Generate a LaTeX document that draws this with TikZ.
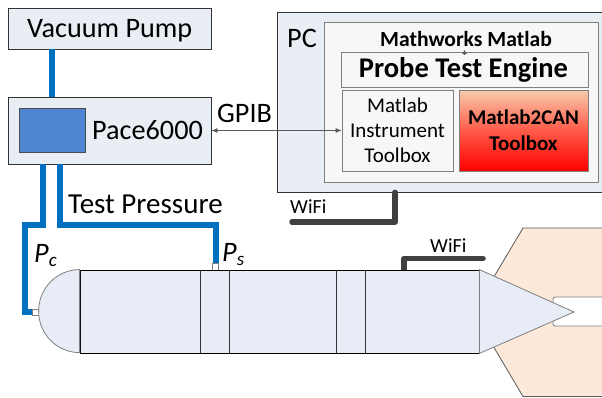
\documentclass[tikz,border=0pt]{standalone}
\usepackage{fontspec}
\setmainfont{Carlito}
\usetikzlibrary{arrows.meta}

\definecolor{boxfill}{HTML}{E9EDF4}
\definecolor{bodyfill}{HTML}{E7ECF6}
\definecolor{pipeblue}{HTML}{0070C0}
\definecolor{paceblue}{HTML}{4F85D1}
\definecolor{peach}{HTML}{FDE9DA}
\definecolor{wifigray}{HTML}{404040}
\definecolor{linegray}{HTML}{7F7F7F}
\definecolor{arrowgray}{HTML}{595959}
\definecolor{matfill}{HTML}{F7F7F7}
\definecolor{salmon}{HTML}{F8CBAD}
\definecolor{redmid}{HTML}{FF5A48}

\begin{document}
\begin{tikzpicture}[x=1pt,y=-1pt,
  box/.style={draw=black!80, fill=boxfill, line width=0.8pt, inner sep=0pt},
  softbox/.style={draw=linegray, fill=matfill, line width=0.8pt, inner sep=0pt},
  pipe/.style={draw=pipeblue, line width=6pt},
  port/.style={draw=linegray, fill=white, line width=0.6pt, inner sep=0pt},
  wire/.style={draw=wifigray, line width=5.5pt, line cap=round, line join=round},
  big/.style={font=\fontsize{28.2}{32}\selectfont},
  mid/.style={font=\fontsize{21}{25}\selectfont},
  small/.style={font=\fontsize{20}{24}\selectfont},
  lbl/.style={inner sep=0pt, anchor=base west},
  gpibline/.style={draw=arrowgray, line width=0.8pt,
    arrows={Latex[length=6pt,width=5pt]-Latex[length=6pt,width=5pt]}},
  tinyarrow/.style={draw=arrowgray, line width=0.6pt, -{Latex[length=4pt,width=5pt]}}
]
\useasboundingbox (0,0) rectangle (602,397);

% fin of the test rig with the slot the probe tip sits in
\filldraw[fill=peach, draw=arrowgray, line width=0.8pt]
  (608,228) -- (523,228) -- (473,312) -- (523,396.5) -- (608,396.5);
\filldraw[fill=white, draw=linegray, line width=0.8pt, rounded corners=2pt]
  (608,297) -- (553,297) -- (553,326) -- (608,326);

% instruments
\node[box, minimum width=203pt, minimum height=41pt] (vp) at (109.5,28.5) {};
\node[box, minimum width=203pt, minimum height=67pt] (pace) at (109.5,130.5) {};
\node[draw=black!70, fill=paceblue, line width=0.8pt, inner sep=0pt,
  minimum width=66pt, minimum height=44pt] (display) at (52,130) {};
\node[lbl, big] (vplabel) at (27,37) {Vacuum Pump};
\node[lbl, big] (pacelabel) at (92,139) {Pace6000};

% WiFi link end points
\coordinate (pcwifi) at (292,222);
\coordinate (probewifi) at (483,258.5);

% PC and software stack
\node[box, minimum width=329pt, minimum height=180pt] (pc) at (441.5,102) {};
\draw[wire] ([xshift=-46.5pt]pc.south) |- (pcwifi);
\node[lbl, big] (pclabel) at (287,47) {PC};
\node[softbox, minimum width=274pt, minimum height=160pt] (matlab) at (461,102) {};
\node[anchor=base, inner sep=0pt, font=\fontsize{21.6}{25}\selectfont\bfseries]
  (matlablabel) at (466,46) {Mathworks Matlab};
\node[softbox, minimum width=247pt, minimum height=35pt] (pte) at (464.5,69.5) {};
\node[anchor=base, inner sep=0pt, font=\fontsize{28.5}{32}\selectfont\bfseries]
  (ptelabel) at (463.5,77) {Probe Test Engine};
\draw[tinyarrow] ([yshift=-3pt]pte.north) -- ([yshift=1.5pt]pte.north);
\node[softbox, minimum width=111pt, minimum height=81pt, align=center, mid]
  (mit) at (397.5,130.5) {Matlab\\Instrument\\Toolbox};
\node[draw=linegray, line width=0.8pt, inner sep=0pt, top color=salmon,
  bottom color=red, middle color=redmid,
  minimum width=129pt, minimum height=81pt, align=center,
  font=\fontsize{21}{26}\selectfont\bfseries]
  (m2c) at (523.5,130.5) {Matlab2CAN\\Toolbox};

% GPIB link
\draw[gpibline] (pace.east) -- (mit.west);
\node[lbl, big] (gpiblabel) at (217,122) {GPIB};

% pressure lines
\node[port, minimum width=7pt, minimum height=6pt] (pcport) at (35.5,312) {};
\node[port, minimum width=5.5pt, minimum height=7pt] (psport) at (215.5,266.5) {};
\draw[pipe] ([xshift=-58pt]vp.south) -- ([xshift=-58pt]pace.north);
\draw[pipe] ([xshift=-67pt]pace.south) |- (25,224.5) |- (pcport.west);
\draw[pipe] ([xshift=-49.5pt]pace.south) |- (psport.north |- 0,224.5) -- (psport.north);
\node[lbl, font=\fontsize{29}{32}\selectfont] (tplabel) at (68,213) {Test Pressure};
\node[lbl, big] (pclbl) at (34,262)
  {\itshape P\raisebox{-4pt}{\fontsize{19}{20}\selectfont c}};
\node[lbl, big] (pslbl) at (222,261)
  {\itshape P\raisebox{-4pt}{\fontsize{19}{20}\selectfont s}};

% probe
\draw[wire] (404,270) |- (probewifi);
\node[draw=black, fill=bodyfill, line width=0.8pt, inner sep=0pt,
  minimum width=399pt, minimum height=83pt] (body) at (279.5,311.5) {};
\filldraw[fill=bodyfill, draw=linegray, line width=0.8pt]
  (body.north west) arc[start angle=90, end angle=270, x radius=41pt, y radius=41.5pt] -- cycle;
\foreach \dx in {121,150,257,286}
  \draw[black!80, line width=0.8pt]
    ([xshift=\dx pt]body.north west) -- ([xshift=\dx pt]body.south west);
\coordinate (tip) at (574,312);
\filldraw[fill=bodyfill, draw=linegray, line width=0.8pt]
  (body.north east) -- (tip) -- (body.south east) -- cycle;
\node[lbl, small] (wifiprobe) at (430,252) {WiFi};
\node[lbl, small] (wifipc) at (290,213) {WiFi};
\end{tikzpicture}
\end{document}
